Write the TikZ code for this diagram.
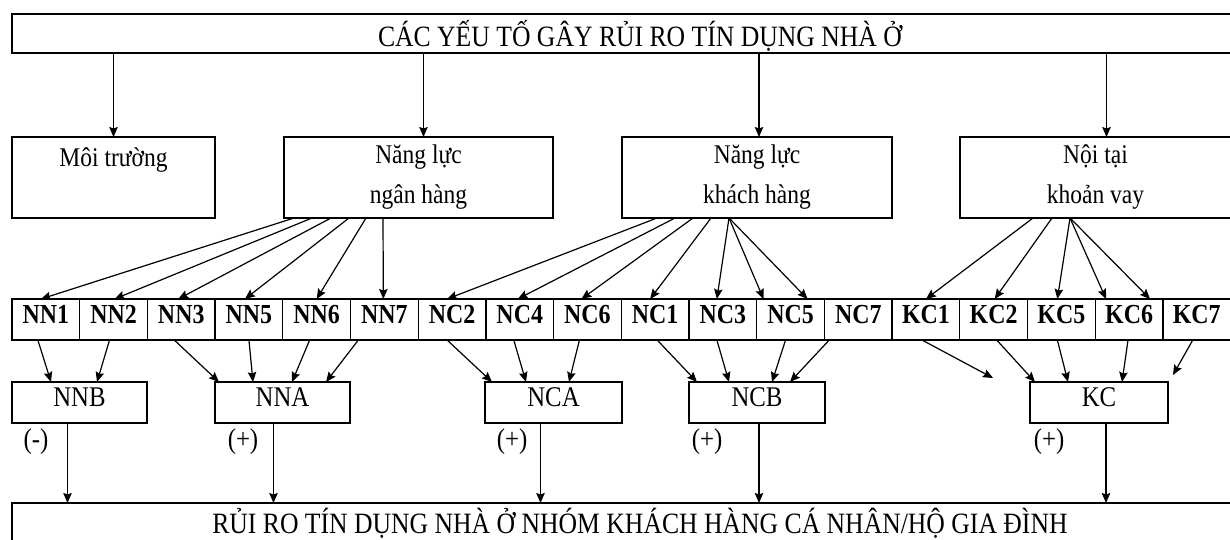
\documentclass[tikz,border=0pt]{standalone}
\usepackage{fontspec}
\setmainfont{Liberation Serif}
\newfontfamily\narrowserif{Liberation Serif}[FakeStretch=0.87]
\usetikzlibrary{arrows.meta,calc}
\begin{document}
\begin{tikzpicture}[x=1pt,y=-1pt,
  box/.style={draw,line width=1.3pt,rectangle,inner sep=0pt,outer sep=0pt},
  cell/.style={box,anchor=north west,minimum width=67.7pt,minimum height=41pt,
    text height=18pt,text depth=11pt,font=\narrowserif\fontsize{27.5}{30}\selectfont\bfseries},
  grp/.style={box,anchor=north west,minimum height=41pt,
    text height=19pt,text depth=12pt,font=\narrowserif\fontsize{28.5}{30}\selectfont},
  big/.style={box,anchor=north west,minimum height=81pt,align=center,
    font=\narrowserif\fontsize{27}{40}\selectfont},
  wide/.style={box,anchor=north west,minimum width=1256pt,font=\narrowserif\fontsize{29.5}{32}\selectfont},
  arr/.style={-{Stealth[length=10pt,width=8.5pt,inset=1.5pt]},line width=1.2pt},
  sign/.style={inner sep=0pt,font=\narrowserif\fontsize{28.5}{30}\selectfont}]

\useasboundingbox (0,0) rectangle (1230,539);
\clip (0,0) rectangle (1230,539);

% title bar
\node[wide,minimum height=39pt,text height=25pt,text depth=0pt] (top) at (12,14) {CÁC YẾU TỐ GÂY RỦI RO TÍN DỤNG NHÀ Ở};

% four groups of factors
\node[big,minimum width=203pt] (env) at (12,137) {Môi trường\\\phantom{M}};
\node[big,minimum width=269pt] (NB) at (284,137) {Năng lực\\ngân hàng};
\node[big,minimum width=270pt] (NK) at (622,137) {Năng lực\\khách hàng};
\node[big,minimum width=271pt] (KT) at (960,137) {Nội tại\\khoản vay};

% row of indicator cells
\foreach \n [count=\i from 0] in {NN1,NN2,NN3,NN5,NN6,NN7,NC2,NC4,NC6,NC1,NC3,NC5,NC7,KC1,KC2,KC5,KC6,KC7}
  \node[cell] (\n) at ({12+67.7*\i},299) {\n};

% aggregated components
\node[grp,minimum width=135pt] (NNB) at (12,382) {NNB};
\node[grp,minimum width=135pt] (NNA) at (215,382) {NNA};
\node[grp,minimum width=137pt] (NCA) at (485,382) {NCA};
\node[grp,minimum width=136pt] (NCB) at (689,382) {NCB};
\node[grp,minimum width=138pt] (KC) at (1030,382) {KC};

% outcome bar
\node[wide,minimum height=40pt] (bot) at (12,503) {\raisebox{3pt}{RỦI RO TÍN DỤNG NHÀ Ở NHÓM KHÁCH HÀNG CÁ NHÂN/HỘ GIA ĐÌNH}};

% title -> groups
\draw[arr] (top.south -| env.north) -- (env.north);
\draw[arr] ($(top.south -| NB.north)+(5,0)$) -- ($(NB.north)+(5,0)$);
\draw[arr] ($(top.south -| NK.north)+(2,0)$) -- ($(NK.north)+(2,0)$);
\draw[arr] ($(top.south -| KT.north)+(11,0)$) -- ($(KT.north)+(11,0)$);

% groups -> indicators
\foreach \dx/\t/\tx in {10/NN1/-5,28/NN2/1,47/NN3/-3,65/NN5/-4,82/NN6/0,99/NN7/-1}
  \draw[arr] ([xshift=\dx pt]NB.south west) -- ([xshift=\tx pt]\t.north);
\foreach \dx/\t/\tx in {35/NC2/-5,53/NC4/-2,71/NC6/-6,89/NC1/-5,107/NC3/-6,107/NC5/-27,107/NC5/17}
  \draw[arr] ([xshift=\dx pt]NK.south west) -- ([xshift=\tx pt]\t.north);
\foreach \dx/\t/\tx in {73/KC1/0,92/KC2/1,110/KC5/-4,110/KC6/-23,110/KC6/21}
  \draw[arr] ([xshift=\dx pt]KT.south west) -- ([xshift=\tx pt]\t.north);

% indicators -> components
\coordinate (kc1end) at ($(KC.north west)+(-37,-4)$);
\coordinate (kc7end) at ($(KC.north east)+(5,-7)$);
\foreach \s/\sx/\t/\tx in {NN1/-8/NNB/39,NN2/-4/NNB/85,NN3/-7/NNA/4,NN5/0/NNA/38,NN6/-7/NNA/77,NN7/-26/NNA/111,
  NC2/-5/NCA/7,NC4/-6/NCA/41,NC6/-8/NCA/84,NC1/2/NCB/8,NC3/-6/NCB/40,NC5/-5/NCB/83,NC7/-29/NCB/101,
  KC2/3/KC/5,KC5/-4/KC/38,KC6/-1/KC/92}
  \draw[arr] ([xshift=\sx pt]\s.south) -- ([xshift=\tx pt]\t.north west);
\draw[arr] ([xshift=-4pt]KC1.south) -- (kc1end);
\draw[arr] ([xshift=-4pt]KC7.south) -- (kc7end);

% components -> outcome
\foreach \c/\dx in {NNB/-12,NNA/-9,NCA/-13,NCB/2,KC/7}
  \draw[arr] ($(\c.south)+(\dx,0)$) -- ($(\c.south |- bot.north)+(\dx,0)$);

% signs of the effects
\node[sign] (sNNB) at (36,442) {(-)};
\node[sign] (sNNA) at (243,442) {(+)};
\node[sign] (sNCA) at (512,442) {(+)};
\node[sign] (sNCB) at (707,442) {(+)};
\node[sign] (sKC) at (1049,442) {(+)};
\end{tikzpicture}
\end{document}
